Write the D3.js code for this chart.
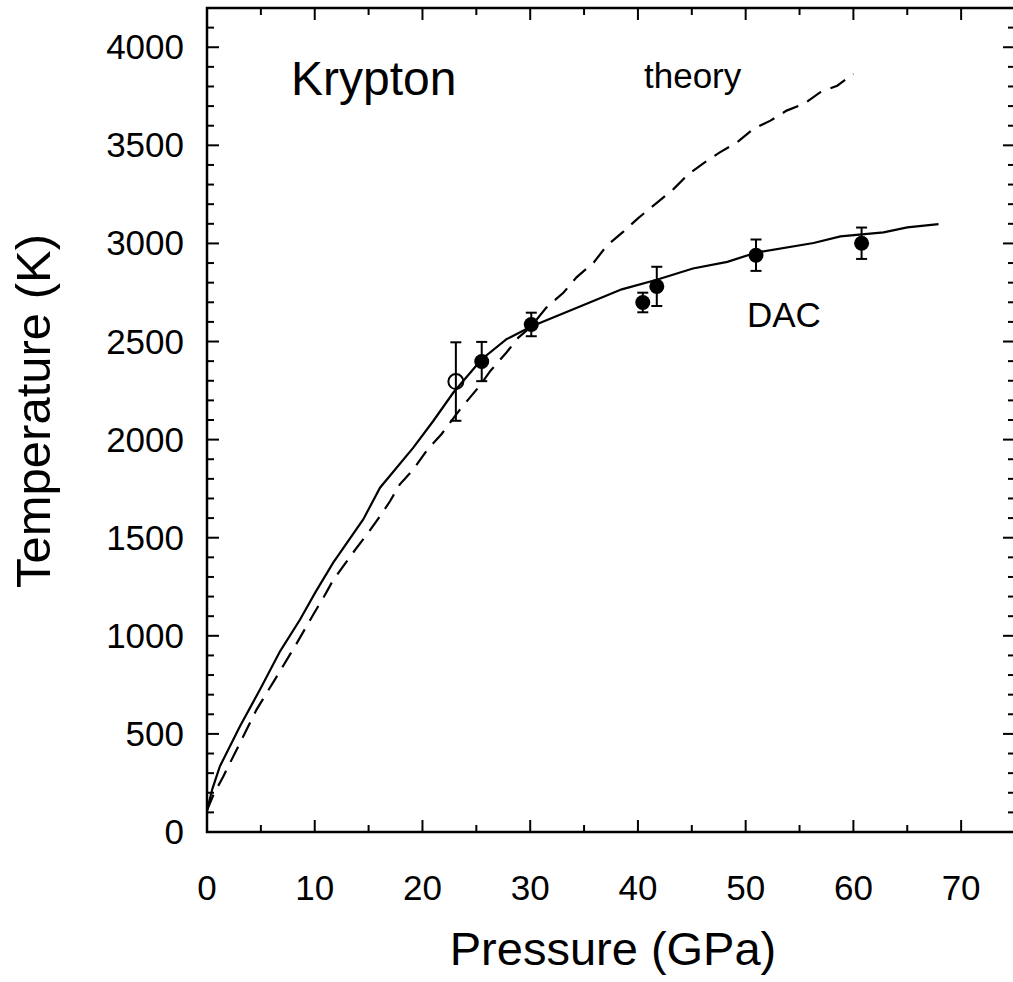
<!DOCTYPE html>
<html>
<head>
<meta charset="utf-8">
<script src="https://cdn.jsdelivr.net/npm/d3@7"></script>
<style>
  body { margin: 0; background: #fff; }
  svg text { font-family: "Liberation Sans", Arial, sans-serif; fill: #000; }
</style>
</head>
<body>
<div id="chart"></div>
<script>
// solid curve (DAC melting line)
const solidP = [0, 0.5, 1.2, 3.06, 4.92, 6.78, 8.64, 10.03, 11.7, 14.5, 16.06, 19.15, 21.0, 22.87, 25.5, 27.8, 30.1, 34.9, 38.5, 41.75, 45.1, 48.3, 51.0, 56.3, 58.8, 62.8, 65.0, 67.9];
const solidT = [110, 220, 335, 539, 726, 921, 1083, 1219, 1372, 1593, 1755, 1959, 2095, 2240, 2410, 2512, 2577, 2685, 2766, 2815, 2872, 2906, 2954, 3002, 3036, 3056, 3082, 3098];

// dashed curve (theory)
const dashP = [0, 0.6, 1.5, 3.06, 4.6, 6.3, 8.17, 9.87, 10.8, 11.7, 12.65, 13.9, 14.98, 16.06, 17.0, 17.9, 19.15, 20.4, 21.8, 23.5, 25.3, 26.3, 27.8, 28.9, 30.0, 31.5, 33.1, 34.3, 35.9, 37.1, 38.65, 40.0, 41.75, 43.3, 44.7, 46.2, 47.6, 49.2, 50.7, 52.3, 53.8, 55.4, 56.9, 58.5, 60.0];
const dashT = [110, 190, 282, 454, 624, 777, 947, 1109, 1194, 1283, 1355, 1449, 1526, 1610, 1687, 1772, 1848, 1945, 2030, 2155, 2273, 2350, 2444, 2520, 2571, 2673, 2750, 2827, 2903, 2988, 3060, 3128, 3207, 3277, 3354, 3413, 3464, 3515, 3583, 3626, 3677, 3711, 3770, 3804, 3864];

// measured points with error bars
const dacP = [25.5, 30.1, 40.45, 41.75, 50.96, 60.76];
const dacT = [2398, 2587, 2699, 2781, 2940, 3001];
const dacErr = [100, 60, 50, 100, 80, 80];

const openP = [23.1];
const openT = [2296];
const openErr = [200];

const xTicks = [0, 10, 20, 30, 40, 50, 60, 70];
const yTicks = [0, 500, 1000, 1500, 2000, 2500, 3000, 3500, 4000];

const W = 1013, H = 982;
const svg = d3.select("#chart").append("svg")
  .attr("width", W).attr("height", H);

const x = d3.scaleLinear().domain([0, 75]).range([207, 1015]);
const y = d3.scaleLinear().domain([0, 4200]).range([832, 8]);

// ticks pointing inward on all four sides, major every 10 GPa / 500 K
function ticksX(g, y0, dir) {
  x.ticks(15).forEach(v => {
    const len = v % 10 === 0 ? 12 : 7;
    g.append("line").attr("x1", x(v)).attr("x2", x(v))
      .attr("y1", y0).attr("y2", y0 + dir * len);
  });
}
function ticksY(g, x0, dir) {
  d3.range(0, 4201, 100).forEach(v => {
    const len = v % 500 === 0 ? 12 : 7;
    g.append("line").attr("y1", y(v)).attr("y2", y(v))
      .attr("x1", x0).attr("x2", x0 + dir * len);
  });
}
const tg = svg.append("g").attr("stroke", "#000").attr("stroke-width", 2);
ticksX(tg, y(0), -1);
ticksX(tg, y(4200), 1);
ticksY(tg, x(0), 1);
ticksY(tg, x(75), -1);

svg.append("rect")
  .attr("x", x(0)).attr("y", y(4200))
  .attr("width", x(75) - x(0)).attr("height", y(0) - y(4200))
  .attr("fill", "none").attr("stroke", "#000").attr("stroke-width", 2.5);

// tick labels
svg.append("g").selectAll("text").data(xTicks).join("text")
  .attr("x", d => x(d)).attr("y", 900)
  .attr("text-anchor", "middle").attr("font-size", 35)
  .text(d => d);

svg.append("g").selectAll("text").data(yTicks).join("text")
  .attr("x", 184).attr("y", d => y(d) + 12)
  .attr("text-anchor", "end").attr("font-size", 35)
  .text(d => d);

// axis titles
svg.append("text").attr("x", 613).attr("y", 965)
  .attr("text-anchor", "middle").attr("font-size", 47)
  .text("Pressure (GPa)");

svg.append("text")
  .attr("transform", "translate(50,411) rotate(-90)")
  .attr("text-anchor", "middle").attr("font-size", 49)
  .text("Temperature (K)");

// curves
const line = d3.line().x(d => x(d[0])).y(d => y(d[1]));

svg.append("path")
  .datum(dashP.map((p, i) => [p, dashT[i]]))
  .attr("d", line).attr("fill", "none")
  .attr("stroke", "#000").attr("stroke-width", 2.2)
  .attr("stroke-dasharray", "17,10");

svg.append("path")
  .datum(solidP.map((p, i) => [p, solidT[i]]))
  .attr("d", line).attr("fill", "none")
  .attr("stroke", "#000").attr("stroke-width", 2.2);

// error bars
function errorBars(P, T, E) {
  const g = svg.append("g").attr("stroke", "#000").attr("stroke-width", 2);
  P.forEach((p, i) => {
    const cx = x(p), top = y(T[i] + E[i]), bot = y(T[i] - E[i]);
    g.append("line").attr("x1", cx).attr("x2", cx).attr("y1", top).attr("y2", bot);
    g.append("line").attr("x1", cx - 5.5).attr("x2", cx + 5.5).attr("y1", top).attr("y2", top);
    g.append("line").attr("x1", cx - 5.5).attr("x2", cx + 5.5).attr("y1", bot).attr("y2", bot);
  });
}
errorBars(dacP, dacT, dacErr);
errorBars(openP, openT, openErr);

svg.append("g").selectAll("circle").data(dacP).join("circle")
  .attr("cx", d => x(d)).attr("cy", (d, i) => y(dacT[i]))
  .attr("r", 7.5).attr("fill", "#000");

svg.append("g").selectAll("circle").data(openP).join("circle")
  .attr("cx", d => x(d)).attr("cy", (d, i) => y(openT[i]))
  .attr("r", 7.5).attr("fill", "none").attr("stroke", "#000").attr("stroke-width", 2);

// annotations
svg.append("text").attr("x", 291).attr("y", 95).attr("font-size", 48).text("Krypton");
svg.append("text").attr("x", 644).attr("y", 88).attr("font-size", 35).text("theory");
svg.append("text").attr("x", 747).attr("y", 327).attr("font-size", 35).text("DAC");
</script>
</body>
</html>
